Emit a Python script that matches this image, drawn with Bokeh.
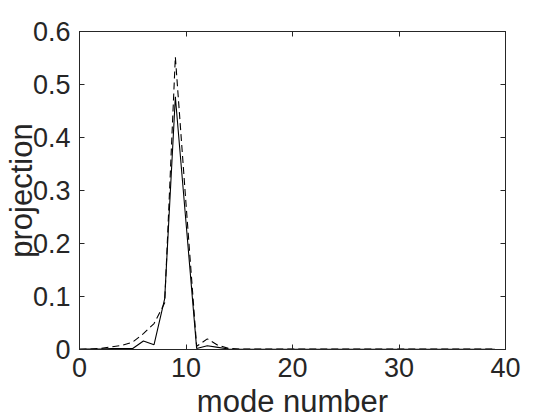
from bokeh.plotting import figure
from bokeh.models import LinearAxis, FixedTicker, Range1d
from bokeh.embed import file_html
from bokeh.resources import INLINE

# data
modes = list(range(40))
proj_solid = [0.001, 0.001, 0.001, 0.002, 0.002, 0.002, 0.016, 0.009, 0.096, 0.477,
              0.240, 0.002, 0.007, 0.004, 0.001, 0.0005, 0.0005, 0.0005, 0.0005, 0.0005,
              0.0005, 0.0005, 0.0005, 0.0005, 0.0005, 0.0005, 0.0005, 0.0005, 0.0005, 0.0005,
              0.0005, 0.0005, 0.0005, 0.0005, 0.0005, 0.0005, 0.0005, 0.0005, 0.0005, 0.0005]
proj_dashed = [0.000, 0.001, 0.002, 0.005, 0.008, 0.014, 0.030, 0.049, 0.088, 0.552,
               0.275, 0.006, 0.020, 0.008, 0.002, 0.001, 0.001, 0.001, 0.001, 0.001,
               0.001, 0.001, 0.001, 0.001, 0.001, 0.001, 0.001, 0.001, 0.001, 0.001,
               0.001, 0.001, 0.001, 0.001, 0.001, 0.001, 0.001, 0.001, 0.001, 0.001]
x_ticks = [0, 10, 20, 30, 40]
y_ticks = [0, 0.1, 0.2, 0.3, 0.4, 0.5, 0.6]
y_tick_labels = ["0", "0.1", "0.2", "0.3", "0.4", "0.5", "0.6"]
x_title = "mode number"
y_title = "projection"

INK = "#262626"
FONT = "Liberation Sans"

p = figure(frame_width=426, frame_height=318,
           x_range=Range1d(0, 40), y_range=Range1d(0, 0.6),
           output_backend="svg", toolbar_location=None,
           min_border_left=73, min_border_top=31, min_border_right=35, min_border_bottom=60)
p.xgrid.visible = False
p.ygrid.visible = False
p.outline_line_color = INK
p.outline_line_width = 1
p.background_fill_color = "white"
p.border_fill_color = "white"

p.line(modes, proj_solid, line_color="black", line_width=1.1)
p.line(modes, proj_dashed, line_color="black", line_width=1.1, line_dash="7 4")

xa = p.xaxis[0]
ya = p.yaxis[0]
xa.ticker = FixedTicker(ticks=x_ticks)
ya.ticker = FixedTicker(ticks=y_ticks)
ya.major_label_overrides = {t: l for t, l in zip(y_ticks, y_tick_labels)}
xa.axis_label = x_title
ya.axis_label = y_title
for ax in (xa, ya):
    ax.major_tick_in = 5
    ax.major_tick_out = 0
    ax.minor_tick_line_color = None
    ax.axis_line_color = INK
    ax.major_tick_line_color = INK
    ax.major_label_text_font = FONT
    ax.major_label_text_font_size = "27px"
    ax.major_label_text_color = INK
    ax.axis_label_text_font = FONT
    ax.axis_label_text_font_size = "31px"
    ax.axis_label_text_font_style = "normal"
    ax.axis_label_text_color = INK
    ax.axis_label_text_line_height = 0.9
xa.major_label_standoff = 8
xa.axis_label_standoff = 4
ya.major_label_standoff = 9
ya.axis_label_standoff = -9

top = LinearAxis(ticker=FixedTicker(ticks=x_ticks), major_label_text_font_size="1px",
                 major_label_text_color=None,
                 major_tick_in=5, major_tick_out=0, minor_tick_line_color=None,
                 axis_line_color=INK, major_tick_line_color=INK, major_label_standoff=0)
right = LinearAxis(ticker=FixedTicker(ticks=y_ticks), major_label_text_font_size="1px",
                   major_label_text_color=None,
                   major_tick_in=5, major_tick_out=0, minor_tick_line_color=None,
                   axis_line_color=INK, major_tick_line_color=INK, major_label_standoff=0)
p.add_layout(top, "above")
p.add_layout(right, "right")

open("out.html", "w").write(file_html(p, INLINE))
